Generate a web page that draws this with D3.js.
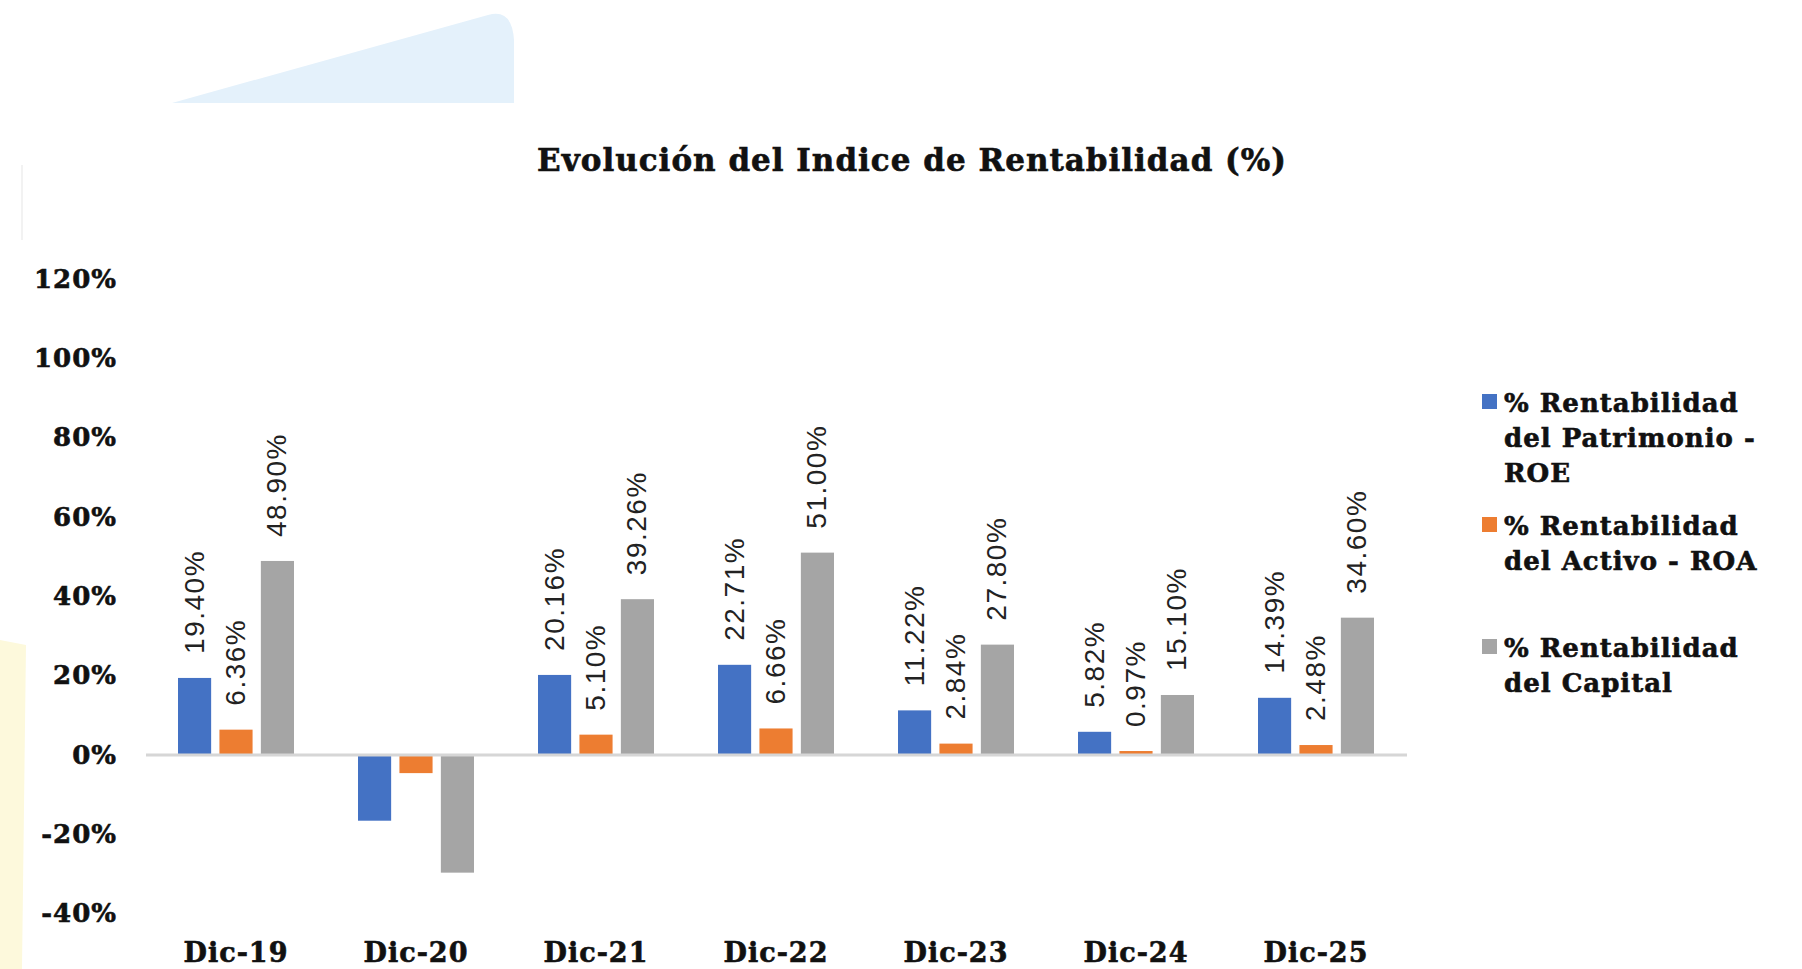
<!DOCTYPE html>
<html>
<head>
<meta charset="utf-8">
<script src="https://cdn.jsdelivr.net/npm/d3@7"></script>
<style>
  body { margin: 0; background: #fff; }
  svg { display: block; }
</style>
</head>
<body>
<svg id="chart" width="1802" height="969"></svg>
<script>
const categories = ["Dic-19", "Dic-20", "Dic-21", "Dic-22", "Dic-23", "Dic-24", "Dic-25"];
const seriesNames = [
  ["% Rentabilidad", "del Patrimonio -", "ROE"],
  ["% Rentabilidad", "del Activo - ROA"],
  ["% Rentabilidad", "del Capital"]
];
const roe = [19.40, -16.6, 20.16, 22.71, 11.22, 5.82, 14.39];
const roa = [6.36, -4.6, 5.10, 6.66, 2.84, 0.97, 2.48];
const capital = [48.90, -29.7, 39.26, 51.00, 27.80, 15.10, 34.60];
const yTicks = [-40, -20, 0, 20, 40, 60, 80, 100, 120];
const colors = ["#4472C4", "#ED7D31", "#A5A5A5"];

const series = [roe, roa, capital];
const serif = "'DejaVu Serif', serif";
const svg = d3.select("#chart");

// heavy slab look: bold serif plus a thin stroke
function heavy(sel, size, spacing) {
  sel.style("font-family", serif).style("font-weight", "bold")
    .style("font-size", size + "px")
    .style("letter-spacing", spacing + "px")
    .attr("fill", "#111").attr("stroke", "#111").attr("stroke-width", 0.6);
}

// decorative background shapes
svg.append("path")
  .attr("d", "M172,103 L488,15 Q512,8 514,40 L514,103 Z")
  .attr("fill", "#e4f1fb");
svg.append("path")
  .attr("d", "M0,640 L26,645 L22,969 L0,969 Z")
  .attr("fill", "#fdf9dc");
svg.append("line")
  .attr("x1", 22).attr("x2", 22).attr("y1", 165).attr("y2", 240)
  .attr("stroke", "#f2f2f2").attr("stroke-width", 2);

const x = d3.scaleBand().domain(categories).range([146, 1406]);
const xs = d3.scaleBand().domain([0, 1, 2]).range([32, 148]).paddingInner(0.2);
const y = d3.scaleLinear().domain([-40, 120]).range([913.5, 279]);

// title
svg.append("text")
  .attr("x", 912).attr("y", 171)
  .attr("text-anchor", "middle")
  .call(heavy, 31, 1)
  .text("Evolución del Indice de Rentabilidad (%)");

// y axis
const yAxis = svg.append("g")
  .attr("transform", "translate(117,0)")
  .call(d3.axisLeft(y).tickValues(yTicks).tickSize(0).tickPadding(0).tickFormat(d => d + "%"));
yAxis.select(".domain").remove();
yAxis.selectAll("text").call(heavy, 26, 1);

// bars
const groups = svg.append("g").selectAll("g")
  .data(categories)
  .join("g")
  .attr("transform", d => `translate(${x(d)},0)`);

groups.selectAll("rect")
  .data((d, i) => series.map((s, k) => ({ k, v: s[i] })))
  .join("rect")
  .attr("x", d => xs(d.k))
  .attr("width", xs.bandwidth())
  .attr("y", d => y(Math.max(0, d.v)))
  .attr("height", d => Math.abs(y(d.v) - y(0)))
  .attr("fill", d => colors[d.k]);

// zero line
svg.append("line")
  .attr("x1", 146).attr("x2", 1407)
  .attr("y1", y(0)).attr("y2", y(0))
  .attr("stroke", "#d6d6d6").attr("stroke-width", 3);

// data labels
groups.selectAll("text.lbl")
  .data((d, i) => series.map((s, k) => ({ k, v: s[i] })).filter(d => d.v >= 0))
  .join("text")
  .attr("class", "lbl")
  .attr("transform", d => `translate(${xs(d.k) + xs.bandwidth() / 2 + 9},${y(d.v) - 24}) rotate(-90)`)
  .style("font-family", "'Liberation Sans', Arial, sans-serif")
  .style("font-size", "28px")
  .style("letter-spacing", "1.5px")
  .attr("fill", "#222")
  .text(d => d.v.toFixed(2) + "%");

// x labels
svg.append("g").selectAll("text")
  .data(categories)
  .join("text")
  .attr("x", d => x(d) + x.bandwidth() / 2)
  .attr("y", 962)
  .attr("text-anchor", "middle")
  .call(heavy, 27, 1)
  .text(d => d);

// legend
const legendY = [412, 535, 657];
const legend = svg.append("g").selectAll("g")
  .data(seriesNames)
  .join("g")
  .attr("transform", (d, i) => `translate(1482,${legendY[i]})`);
legend.append("rect")
  .attr("x", 0).attr("y", -18).attr("width", 15).attr("height", 15)
  .attr("fill", (d, i) => colors[i]);
legend.append("text")
  .call(heavy, 26, 1)
  .selectAll("tspan")
  .data(d => d)
  .join("tspan")
  .attr("x", 22)
  .attr("dy", (d, i) => i === 0 ? 0 : 35)
  .text(d => d);
</script>
</body>
</html>
